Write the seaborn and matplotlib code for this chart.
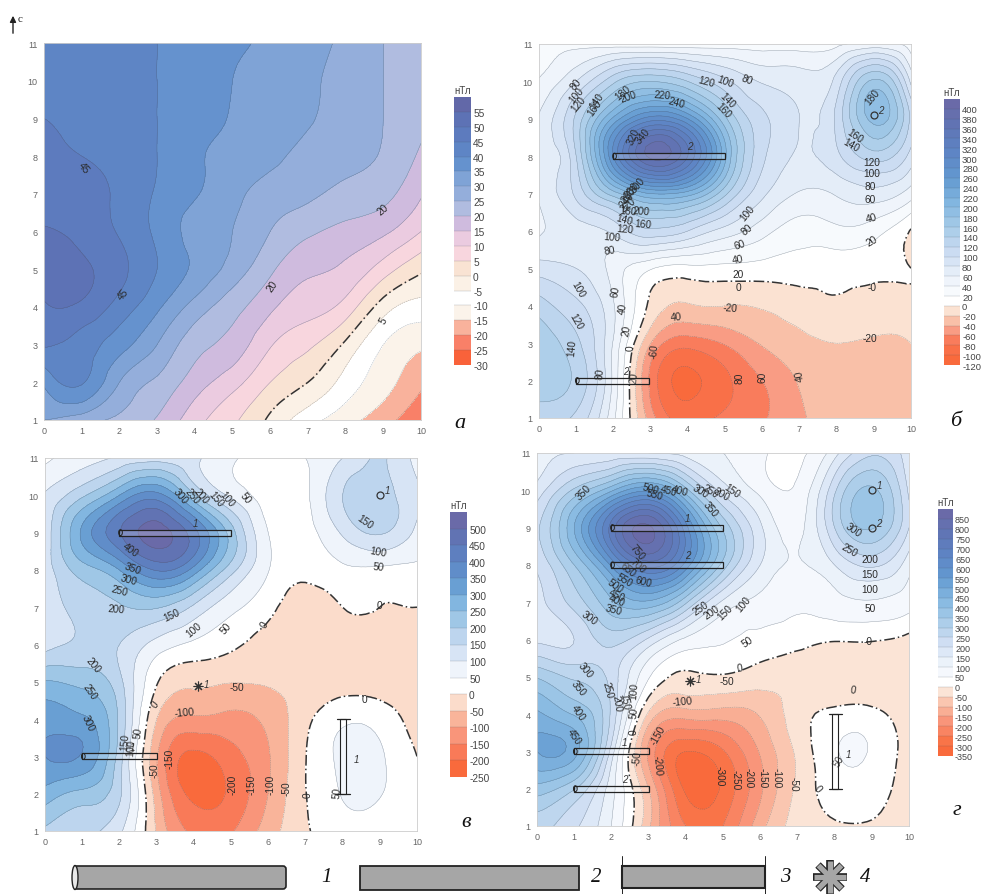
"""
Magnetic field maps over buried pipes, four panels (a, b, v, g).
"""
import numpy as np
import matplotlib
matplotlib.use("Agg")
import matplotlib.pyplot as plt
import matplotlib.tri as mtri
from matplotlib.colors import ListedColormap, BoundaryNorm
from matplotlib.patches import Rectangle, FancyBboxPatch, Ellipse
import seaborn as sns

W, H = 981, 895

# === DATA (rows from y=11 down to y=1, columns x=0..10) ===
X_VALUES = list(range(0, 11))
Y_VALUES = list(range(11, 0, -1))

GRID_A = [
    [44, 44, 43, 40, 38, 36, 34, 31.5, 29, 25, 22],
    [44.5, 44.5, 43, 40, 38, 35, 33, 31, 28, 25, 22],
    [45, 44.5, 43, 40, 37.5, 34.5, 32, 30.5, 27.5, 25, 21.5],
    [46, 45, 43.5, 40, 36, 33, 31, 28.5, 26.5, 24.5, 19],
    [47.5, 47, 44, 39.5, 35.5, 31.5, 28, 26, 23.5, 21.5, 15.5],
    [50.5, 48.5, 44.5, 39, 33, 30, 25, 21, 18.5, 16, 10],
    [52, 51, 46.5, 40, 34, 28, 21, 16, 14, 7.5, 1],
    [49.5, 49, 43, 36, 28, 22, 16, 12, 8, -2.5, -7],
    [45.5, 43, 37, 30, 22, 18, 10.5, 6, -1, -10, -14],
    [36, 40.5, 30, 24, 17.5, 12, 5, 0, -7, -13, -19],
    [30, 27, 24, 19.5, 12, 6, -1, -8, -13, -18, -24],
]
GRID_B = [
    [35, 35, 30, 28, 28, 30, 30, 30, 35, 45, 30],
    [42, 80, 135, 160, 140, 105, 78, 70, 88, 165, 75],
    [62, 125, 225, 290, 260, 165, 105, 80, 105, 188, 115],
    [68, 120, 280, 385, 340, 205, 105, 78, 95, 130, 92],
    [62, 105, 170, 220, 210, 145, 85, 58, 62, 72, 50],
    [58, 70, 85, 115, 100, 72, 48, 30, 35, 28, -2],
    [90, 80, 52, 22, 14, 14, 12, 10, 8, 6, 0],
    [130, 105, 62, -5, -22, -20, -18, -10, -3, -10, -8],
    [155, 125, 58, -40, -72, -58, -38, -26, -20, -22, -20],
    [155, 135, 55, -65, -105, -85, -60, -38, -25, -30, -23],
    [125, 115, 45, -50, -88, -75, -62, -44, -30, -32, -38],
]
GRID_V = [
    [40, 75, 110, 125, 110, 60, 20, 50, 100, 155, 80],
    [105, 190, 300, 370, 210, 90, 25, 40, 150, 172, 110],
    [115, 310, 445, 520, 420, 225, 50, 30, 108, 155, 85],
    [125, 225, 300, 405, 330, 170, 52, 15, 40, 40, 40],
    [115, 170, 195, 205, 140, 65, 15, -25, 0, 0, 0],
    [130, 160, 150, 80, 40, 10, -20, -35, -30, -25, -25],
    [255, 235, 165, 5, -40, -48, -45, -35, -25, -25, -25],
    [330, 310, 190, -50, -110, -115, -85, -15, 40, 30, -25],
    [350, 345, 175, -95, -215, -170, -105, -2, 58, 55, 0],
    [280, 235, 160, -75, -215, -190, -100, -2, 52, 52, 15],
    [190, 160, 110, -55, -160, -155, -75, -8, 35, 30, 20],
]
GRID_G = [
    [130, 150, 160, 150, 130, 100, 60, 40, 130, 240, 170],
    [170, 310, 440, 540, 370, 180, 85, 60, 240, 360, 190],
    [240, 450, 720, 860, 620, 340, 160, 85, 250, 355, 200],
    [210, 350, 560, 720, 580, 330, 150, 95, 150, 210, 120],
    [180, 270, 390, 440, 310, 140, 85, 60, 80, 95, 70],
    [190, 200, 270, 190, 90, 55, 35, 20, 5, 5, -15],
    [345, 290, 230, 55, -10, -5, -25, -35, -45, -45, -45],
    [460, 395, 240, -60, -125, -125, -95, -25, 15, 15, -30],
    [500, 470, 180, -160, -300, -255, -145, -40, 45, 45, -25],
    [380, 305, 120, -100, -310, -290, -160, -40, 25, 25, -30],
    [270, 210, 100, -90, -250, -250, -120, -30, -5, -5, -30],
]

# contour labels: x, y, text, rotation
LABELS_A = [(1.05, 7.7, "45", -50), (2.1, 4.35, "45", 50), (6.05, 4.55, "20", 55),
            (9.0, 6.6, "20", 40), (9.0, 3.65, "5", 60)]
LABELS_B = [(1.0, 9.95, "80", 50), (1.0, 9.65, "100", 50), (1.05, 9.4, "120", 50),
            (1.55, 9.5, "140", 55), (1.5, 9.3, "160", 55), (2.25, 9.7, "180", 40), (2.4, 9.6, "200", 20),
            (3.3, 9.65, "220", -5), (3.7, 9.45, "240", -15), (4.5, 10.0, "120", -15),
            (5.0, 10.0, "100", -20), (5.6, 10.05, "80", -20), (5.05, 9.5, "140", -45), (4.95, 9.25, "160", -45),
            (2.55, 8.55, "320", 65), (2.8, 8.55, "340", 50),
            (2.65, 7.25, "300", 50), (2.5, 7.1, "280", 50), (2.4, 6.98, "260", 50), (2.35, 6.85, "240", 50),
            (2.4, 6.72, "220", 40), (2.4, 6.55, "180", -5), (2.75, 6.55, "200", -5),
            (2.8, 6.2, "160", -5), (2.3, 6.3, "140", -15), (2.3, 6.05, "120", -5), (1.95, 5.85, "100", -5),
            (1.9, 5.5, "80", 10), (5.6, 6.5, "100", 50), (5.6, 6.05, "80", 40),
            (5.4, 5.65, "60", 20), (5.35, 5.25, "40", 10), (5.35, 4.85, "20", 0),
            (5.35, 4.5, "0", 0), (5.15, 3.95, "-20", -5), (3.7, 3.7, "40", 5),
            (2.05, 4.4, "60", 80), (2.25, 3.95, "40", 80), (2.35, 3.35, "20", 80), (2.45, 2.9, "0", 90),
            (1.05, 4.45, "100", -60), (1.0, 3.6, "120", -60), (0.9, 2.9, "140", 85), (1.65, 2.2, "80", 85),
            (2.55, 2.1, "20", 85), (3.1, 2.8, "-60", 85), (5.4, 2.1, "80", 90), (6.0, 2.1, "60", 90),
            (7.0, 2.15, "40", 100),
            (8.95, 9.6, "180", 50), (8.5, 8.55, "160", -35), (8.4, 8.3, "140", -30),
            (8.95, 7.85, "120", 0), (8.95, 7.55, "100", 0), (8.9, 7.2, "80", 0), (8.9, 6.85, "60", 0),
            (8.95, 6.35, "40", 15), (8.95, 5.75, "20", 30), (8.95, 4.5, "-0", 0), (8.9, 3.15, "-20", 0)]
LABELS_V = [(3.65, 10.0, "300", -50), (3.95, 10.0, "250", -50), (4.2, 10.0, "200", -50),
            (4.6, 9.9, "150", -50), (4.9, 9.9, "100", -50), (5.4, 9.95, "50", -50),
            (2.3, 8.55, "400", -35), (2.35, 8.05, "350", -20), (2.25, 7.75, "300", -15),
            (2.0, 7.45, "250", -15), (1.9, 6.95, "200", -5), (3.4, 6.8, "150", 25), (4.0, 6.4, "100", 40),
            (4.85, 6.45, "50", 50), (5.9, 6.55, "0", 60), (2.95, 4.4, "0", 50), (1.3, 5.45, "200", -50),
            (1.2, 4.75, "250", -55), (1.15, 3.9, "300", -65), (2.15, 3.4, "150", 85), (2.3, 3.25, "100", 85),
            (2.5, 3.65, "50", 85), (2.95, 2.65, "-50", 90), (3.35, 2.95, "-150", 90),
            (3.75, 4.2, "-100", 5), (5.15, 4.85, "-50", 0), (5.05, 2.25, "-200", 90),
            (5.55, 2.25, "-150", 90), (6.05, 2.25, "-100", 90), (6.5, 2.15, "-50", 90), (7.05, 2.0, "0", 90),
            (8.6, 4.55, "0", 0), (7.85, 2.05, "50", 85), (9.0, 7.05, "0", 0), (8.95, 8.1, "50", -5),
            (8.95, 8.5, "100", -10), (8.6, 9.3, "150", -35)]
LABELS_G = [(1.25, 9.95, "350", 45), (3.05, 10.05, "500", -15), (3.15, 9.9, "550", -15),
            (3.55, 10.0, "450", -15), (3.85, 10.0, "400", -15), (4.4, 10.0, "300", -30),
            (4.65, 10.0, "250", -30), (4.95, 9.9, "200", -30), (5.25, 10.0, "150", -35), (4.65, 9.5, "350", -50),
            (2.7, 8.35, "750", -50), (2.7, 8.0, "700", -40), (2.45, 7.9, "650", -40), (2.85, 7.55, "600", -15),
            (2.35, 7.6, "550", -30), (2.1, 7.45, "500", -35), (2.15, 7.2, "450", -25), (2.15, 7.05, "400", -20),
            (2.05, 6.8, "350", -15), (1.4, 6.6, "300", -35), (4.4, 6.85, "250", 35), (4.7, 6.75, "200", 35),
            (5.05, 6.75, "150", 45), (5.55, 6.95, "100", 50), (5.65, 5.95, "50", 35), (5.45, 5.25, "0", 10),
            (1.3, 5.2, "300", -50), (1.1, 4.7, "350", -50), (1.1, 4.05, "400", -55), (1.0, 3.4, "450", -55),
            (1.9, 4.65, "250", -75), (2.15, 4.3, "200", -80), (2.35, 4.35, "150", -80), (2.6, 4.65, "100", 85),
            (2.6, 4.05, "50", 85), (2.6, 3.55, "0", 90), (2.7, 2.85, "-50", 85), (3.25, 3.45, "-150", 60),
            (3.25, 2.65, "-200", -85), (3.9, 4.35, "-100", 5), (5.1, 4.9, "-50", 0),
            (4.9, 2.35, "-300", -90), (5.35, 2.25, "-250", -90), (5.7, 2.3, "-200", -90),
            (6.05, 2.3, "-150", -90), (6.45, 2.3, "-100", -90), (6.9, 2.15, "-50", -90), (7.55, 2.0, "0", -50),
            (8.5, 4.65, "0", -10), (8.1, 2.75, "50", 60), (8.9, 5.95, "-0", 0), (8.95, 6.85, "50", 0),
            (8.95, 7.35, "100", 0), (8.95, 7.75, "150", 0), (8.95, 8.15, "200", 0), (8.4, 8.4, "250", -30),
            (8.5, 8.95, "300", -35)]

# pipes: x0, x1, y (horizontal) and x, y0, y1 (vertical); point markers
PIPES_H_B = [(2, 5, 8.0, "2"), (1, 2.95, 2.0, "2")]
POINTS_B = [(9, 9.1, "2")]
PIPES_H_V = [(2, 5, 9.0, "1"), (1, 3, 3.0, "1")]
PIPES_VERT_V = [(8, 2, 4)]
POINTS_V = [(9, 10, "1")]
STARS_V = [(4.1, 4.9, "1")]
PIPES_H_G = [(2, 5, 9.0, "1"), (2, 5, 8.0, "2"), (1, 3, 3.0, "1"), (1, 3, 2.0, "2")]
PIPES_VERT_G = [(8, 2, 4)]
POINTS_G = [(9, 10, "1"), (9, 9, "2")]
STARS_G = [(4.1, 4.9, "1")]

TICKS_A = [55, 50, 45, 40, 35, 30, 25, 20, 15, 10, 5, 0, -5, -10, -15, -20, -25, -30]
COLORS_A = ["#F9623A", "#F98068", "#F9B29C", "#FBF3EA", "#FFFFFF", "#FBF1E6", "#F9E3D3", "#F8D6DE",
            "#EBCBE0", "#CFBBDE", "#B0BCE0", "#94AEDB", "#7FA3D6", "#6592CE", "#5E85C5", "#5D7BBE",
            "#5D72B5", "#6268A8"]
BLUE_ANCHORS = ["#FFFFFF", "#EAF1FA", "#CBDCF2", "#A6CBE8", "#82B6E0", "#6399D0", "#5E85C5", "#5F76B6", "#6A6AA8"]
REDS_B = ["#F96A3C", "#F97048", "#F97C5C", "#F99C84", "#F9C0A8", "#FBE2D2"]
REDS_V = ["#F96A3C", "#F97A58", "#F9957A", "#F9B49A", "#FBDCCB"]
REDS_G = ["#F96A3C", "#F97448", "#F98462", "#F9957A", "#F9AE94", "#FAC6B0", "#FBE4D6"]


def px_axes(fig, x0, y0, x1, y1):
    """Axes from pixel box, y measured from the top."""
    return fig.add_axes([x0 / W, 1 - y1 / H, (x1 - x0) / W, (y1 - y0) / H])


def smooth_field(grid):
    """Let matplotlib's tri refiner smooth the contours between grid values."""
    xx, yy = np.meshgrid(X_VALUES, Y_VALUES)
    tri = mtri.Triangulation(xx.ravel(), yy.ravel())
    z = np.array(grid, dtype=float).ravel()
    interp = mtri.CubicTriInterpolator(tri, z, kind="min_E")
    return mtri.UniformTriRefiner(tri).refine_field(z, triinterpolator=interp, subdiv=3)


def draw_pipes(ax, pipes_h, pipes_v, points, stars):
    for x0, x1, y, name in pipes_h:
        ax.add_patch(Rectangle((x0, y - 0.08), x1 - x0, 0.16, fc=(1, 1, 1, 0.2), ec="#222222", lw=0.9, zorder=5))
        ax.add_patch(Ellipse((x0 + 0.03, y), 0.1, 0.16, fc="none", ec="#222222", lw=0.7, zorder=5))
        ax.text(x0 + (x1 - x0) * 0.68, y + 0.18, name, fontsize=7, style="italic", ha="center", color="#333333", zorder=6)
    for x, y0, y1 in pipes_v:
        ax.add_patch(Rectangle((x - 0.08, y0), 0.16, y1 - y0, fc=(1, 1, 1, 0.2), ec="#222222", lw=0.8, zorder=5))
        ax.plot([x - 0.15, x + 0.2], [y0, y0], color="#222222", lw=0.9, zorder=5)
        ax.plot([x - 0.15, x + 0.2], [y1, y1], color="#222222", lw=0.9, zorder=5)
        ax.text(x + 0.3, y0 + 0.85, "1", fontsize=7, style="italic", color="#333333", zorder=6)
    for x, y, name in points:
        ax.plot([x], [y], "o", ms=5, mfc="none", mec="#333333", mew=0.9, zorder=6)
        ax.text(x + 0.12, y + 0.05, name, fontsize=7, style="italic", color="#333333", zorder=6)
    for x, y, name in stars:
        ax.plot([x], [y], marker=(8, 2, 0), ms=7, mec="#333333", mew=0.8, zorder=6)
        ax.text(x + 0.17, y - 0.05, name, fontsize=7, style="italic", color="#333333", zorder=6)


def draw_map(fig, box, grid, levels, colors, labels):
    ax = px_axes(fig, *box)
    rx, rz = smooth_field(grid)
    rz = np.clip(rz, levels[0] + 0.01, levels[-1] - 0.01)
    cmap = ListedColormap(colors)
    norm = BoundaryNorm(levels, cmap.N)
    ax.tricontourf(rx, rz, levels=levels, cmap=cmap, norm=norm)
    others = [v for v in levels if v != 0]
    ax.tricontour(rx, rz, levels=others, colors="#44505c", linewidths=0.3, alpha=0.55)
    ax.tricontour(rx, rz, levels=[0], colors="#333333", linewidths=1.1, linestyles=[(0, (7, 2, 1, 2))])
    ax.set_xlim(0, 10)
    ax.set_ylim(1, 11)
    ax.set_xticks(range(0, 11))
    ax.set_yticks(range(1, 12))
    ax.tick_params(labelsize=6.5, length=2.5, width=0.5, color="#bbbbbb", labelcolor="#666666", pad=2)
    for s in ax.spines.values():
        s.set_color("#cccccc")
        s.set_linewidth(0.6)
    for x, y, txt, rot in labels:
        ax.text(x, y, txt, fontsize=7.3, rotation=rot, ha="center", va="center", color="#2a2a2a", zorder=4)
    return ax


def draw_colorbar(fig, box, levels, colors, ticks, unit, size=7.3):
    ax = px_axes(fig, *box)
    ax.pcolormesh([0, 1], levels, np.arange(len(colors)).reshape(-1, 1), cmap=ListedColormap(colors),
                  vmin=-0.5, vmax=len(colors) - 0.5)
    ax.hlines(levels[1:-1], 0, 1, color="#44505c", lw=0.25, alpha=0.5)
    ax.set_ylim(levels[0], levels[-1])
    ax.set_xlim(0, 1)
    ax.set_xticks([])
    ax.set_yticks(ticks)
    ax.yaxis.tick_right()
    ax.tick_params(axis="y", labelsize=size, length=0, labelcolor="#444444", pad=1.5)
    for s in ax.spines.values():
        s.set_visible(False)
    ax.text(0.5, 1.008, unit, transform=ax.transAxes, fontsize=7, ha="center", va="bottom", color="#444444")


def blue_red(n_pos, reds):
    return reds + sns.blend_palette(BLUE_ANCHORS, n_pos)


def draw_legend(fig):
    ax = fig.add_axes([0, 0, 1, 1], zorder=10)
    ax.set_xlim(0, W)
    ax.set_ylim(H, 0)
    ax.axis("off")
    grey, edge = "#A6A6A6", "#222222"
    # cylinder
    ax.add_patch(FancyBboxPatch((74, 867), 212, 23, boxstyle="round,pad=0,rounding_size=3", fc=grey, ec=edge, lw=1.2))
    ax.add_patch(Ellipse((75, 878.5), 6, 24, fc="#E8E8E8", ec=edge, lw=1.0))
    # box
    ax.add_patch(Rectangle((360, 867), 219, 24, fc=grey, ec=edge, lw=1.3))
    # pipe with end caps
    ax.add_patch(Rectangle((622, 867), 143, 22, fc=grey, ec=edge, lw=1.5))
    ax.plot([622, 622], [857, 895], color=edge, lw=0.7)
    ax.plot([765, 765], [857, 895], color=edge, lw=0.7)
    # star
    for (dx, dy) in [(17, 0), (12, 12), (12, -12), (0, 17)]:
        ax.plot([830 - dx, 830 + dx], [878 - dy, 878 + dy], color=edge, lw=5.5, solid_capstyle="butt")
    for (dx, dy) in [(16, 0), (11.5, 11.5), (11.5, -11.5), (0, 16)]:
        ax.plot([830 - dx, 830 + dx], [878 - dy, 878 + dy], color=grey, lw=3.8, solid_capstyle="butt")
    serif = dict(family="Liberation Serif", style="italic", ha="center", va="center", color="#111111")
    for x, txt in [(326, "1"), (596, "2"), (785, "3"), (865, "4")]:
        ax.text(x, 878, txt, fontsize=15, **serif)
    for x, y, txt in [(460, 423, "а"), (956, 421, "б"), (466, 823, "в"), (957, 811, "г")]:
        ax.text(x, y, txt, fontsize=16, **serif)
    # north arrow
    ax.annotate("", xy=(13, 14), xytext=(13, 37), arrowprops=dict(arrowstyle="-|>", color="#222222", lw=1.0, mutation_scale=9))
    ax.text(20, 19, "c", fontsize=8, ha="center", va="center", color="#222222", family="Liberation Serif")


def main():
    sns.set_theme(style="white")
    plt.rcParams["font.family"] = ["Liberation Sans", "DejaVu Sans"]
    plt.rcParams["axes.unicode_minus"] = False
    fig = plt.figure(figsize=(W / 100, H / 100), dpi=100, facecolor="white")

    levels_a = list(range(-30, 65, 5))
    draw_map(fig, (44, 44, 421, 421), GRID_A, levels_a, COLORS_A, LABELS_A)
    draw_colorbar(fig, (454, 98, 471, 366), levels_a, COLORS_A, TICKS_A, "нТл")

    levels_b = list(range(-120, 440, 20))
    colors_b = blue_red(21, REDS_B)
    ax = draw_map(fig, (539, 45, 911, 419), GRID_B, levels_b, colors_b, LABELS_B)
    draw_pipes(ax, PIPES_H_B, [], POINTS_B, [])
    draw_colorbar(fig, (944, 100, 960, 366), levels_b, colors_b, list(range(-120, 420, 20)), "нТл", size=6.8)

    levels_v = list(range(-250, 600, 50))
    colors_v = blue_red(11, REDS_V)
    ax = draw_map(fig, (45, 459, 417, 832), GRID_V, levels_v, colors_v, LABELS_V)
    draw_pipes(ax, PIPES_H_V, PIPES_VERT_V, POINTS_V, STARS_V)
    draw_colorbar(fig, (450, 513, 467, 778), levels_v, colors_v, list(range(-250, 550, 50)), "нТл")

    levels_g = list(range(-350, 950, 50))
    colors_g = blue_red(18, REDS_G)
    ax = draw_map(fig, (537, 454, 909, 827), GRID_G, levels_g, colors_g, LABELS_G)
    draw_pipes(ax, PIPES_H_G, PIPES_VERT_G, POINTS_G, STARS_G)
    draw_colorbar(fig, (938, 510, 953, 757), levels_g, colors_g, list(range(-350, 900, 50)), "нТл", size=6.5)

    draw_legend(fig)
    fig.savefig("out.png", dpi=100)
    plt.close(fig)


if __name__ == "__main__":
    main()
